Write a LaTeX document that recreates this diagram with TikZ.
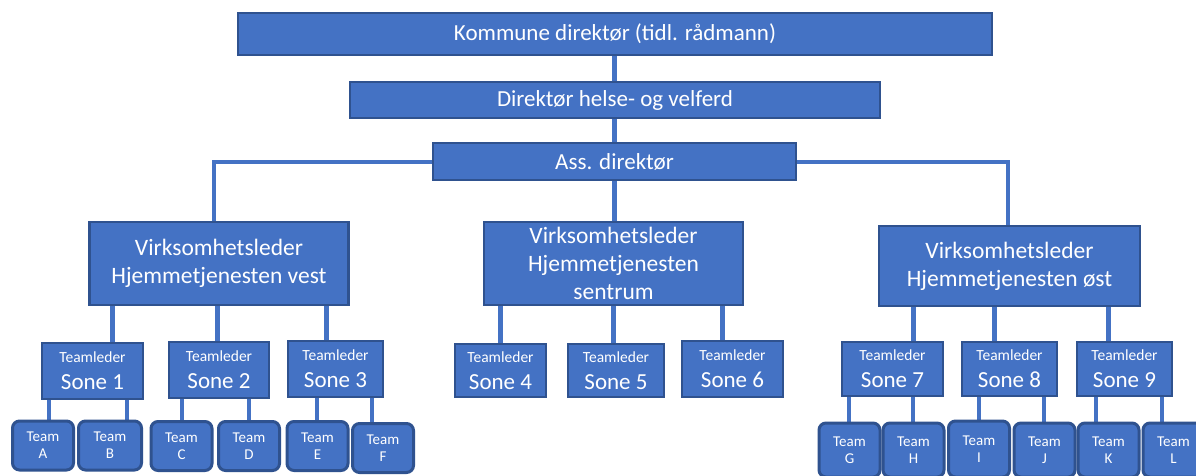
\documentclass[tikz,border=0pt]{standalone}
\usepackage{fontspec}
\setmainfont{Carlito}
\definecolor{obox}{HTML}{4472C4}
\definecolor{oedge}{HTML}{2F528F}
\pgfdeclarelayer{bg}
\pgfdeclarelayer{lines}
\pgfsetlayers{bg,lines,main}
\begin{document}
\begin{tikzpicture}[x=1pt,y=-1pt,
 box/.style={draw=oedge, fill=obox, line width=2.5pt, text=white, inner sep=0pt, align=center},
 topbox/.style={box, font=\fontsize{23}{26}\selectfont},
 vlbox/.style={box, minimum width=259pt, font=\fontsize{23.5}{28}\selectfont},
 sonebox/.style={box, font=\fontsize{23}{27}\selectfont},
 teambox/.style={box, rounded corners=7pt, line width=3pt, minimum width=61pt, minimum height=49pt, font=\fontsize{15}{17}\selectfont},
 conn/.style={draw=obox, line width=5pt},
 tconn/.style={draw=obox, line width=4pt}]
\begin{pgfonlayer}{bg}
\fill[white] (0,0) rectangle (1196,475);
\end{pgfonlayer}
\useasboundingbox (0,0) rectangle (1196,475);
\newcommand{\tl}[1]{{\fontsize{15.5}{16}\selectfont Teamleder}\\#1}
% top
\node[topbox, minimum width=754pt, minimum height=42pt] (k) at (615,34) {Kommune direktør (tidl. rådmann)};
\node[topbox, minimum width=530pt, minimum height=36pt] (d) at (615,100) {Direktør helse- og velferd};
\node[topbox, minimum width=363pt, minimum height=37pt] (a) at (614.5,161.5) {Ass. direktør};
% virksomhetsledere
\node[vlbox, minimum height=83pt] (v) at (219,263.5) {Virksomhetsleder\\Hjemmetjenesten vest};
\node[vlbox, minimum height=83pt] (s) at (613.5,263.5) {Virksomhetsleder\\Hjemmetjenesten\\sentrum};
\node[vlbox, minimum width=261pt, minimum height=80pt] (o) at (1009.5,266) {Virksomhetsleder\\Hjemmetjenesten øst};
% soner
\node[sonebox, minimum width=101pt, minimum height=56pt] (s1) at (92.5,371) {\tl{Sone 1}};
\node[sonebox, minimum width=100pt, minimum height=56pt] (s2) at (219,370) {\tl{Sone 2}};
\node[sonebox, minimum width=95pt, minimum height=56pt] (s3) at (335.5,369) {\tl{Sone 3}};
\node[sonebox, minimum width=91pt, minimum height=53pt] (s4) at (500.5,370.5) {\tl{Sone 4}};
\node[sonebox, minimum width=96pt, minimum height=53pt] (s5) at (616,370.5) {\tl{Sone 5}};
\node[sonebox, minimum width=101pt, minimum height=56pt] (s6) at (732.5,369) {\tl{Sone 6}};
\node[sonebox, minimum width=101pt, minimum height=54pt] (s7) at (892.5,369) {\tl{Sone 7}};
\node[sonebox, minimum width=95pt, minimum height=54pt] (s8) at (1009.5,369) {\tl{Sone 8}};
\node[sonebox, minimum width=95pt, minimum height=54pt] (s9) at (1124.5,369) {\tl{Sone 9}};
% teams
\node[teambox] (tA) at (43,445.5) {Team\\A};
\node[teambox, minimum width=63pt] (tB) at (110,445.5) {Team\\B};
\node[teambox] (tC) at (181.5,446) {Team\\C};
\node[teambox] (tD) at (249,446) {Team\\D};
\node[teambox] (tE) at (317.5,446) {Team\\E};
\node[teambox] (tF) at (383,448) {Team\\F};
\node[teambox, minimum height=54pt] (tG) at (849.5,450) {Team\\G};
\node[teambox, minimum height=54pt] (tH) at (913.5,450) {Team\\H};
\node[teambox, minimum height=56pt] (tI) at (979,449) {Team\\I};
\node[teambox, minimum height=54pt] (tJ) at (1044.5,450) {Team\\J};
\node[teambox, minimum height=54pt] (tK) at (1108.5,450) {Team\\K};
\node[teambox, minimum height=54pt] (tL) at (1173.5,450) {Team\\L};
% connectors
\begin{pgfonlayer}{lines}
\draw[conn] (k.south -| 614,0) -- (d.north -| 614,0);
\draw[conn] (d.south -| 614,0) -- (a.north -| 614,0);
\draw[conn] (a.south -| 614,0) -- (s.north -| 614,0);
\draw[tconn] (a.west) -| (v.north -| 214,0);
\draw[tconn] (a.east) -| (o.north -| 1008,0);
\foreach \p/\c/\x in {v/s1/112, v/s2/217, v/s3/326, s/s4/500, s/s5/613, s/s6/722, o/s7/913, o/s8/994, o/s9/1108}
  \draw[conn] (\p.south -| \x,0) -- (\c.north -| \x,0);
\foreach \p/\c/\x in {s1/tA/49, s1/tB/127, s2/tC/182, s2/tD/249, s3/tE/317, s3/tF/372, s7/tG/849, s7/tH/913, s8/tI/979, s8/tJ/1044, s9/tK/1096, s9/tL/1162}
  \draw[tconn] (\p.south -| \x,0) -- (\c.north -| \x,0);
\end{pgfonlayer}
\end{tikzpicture}
\end{document}
